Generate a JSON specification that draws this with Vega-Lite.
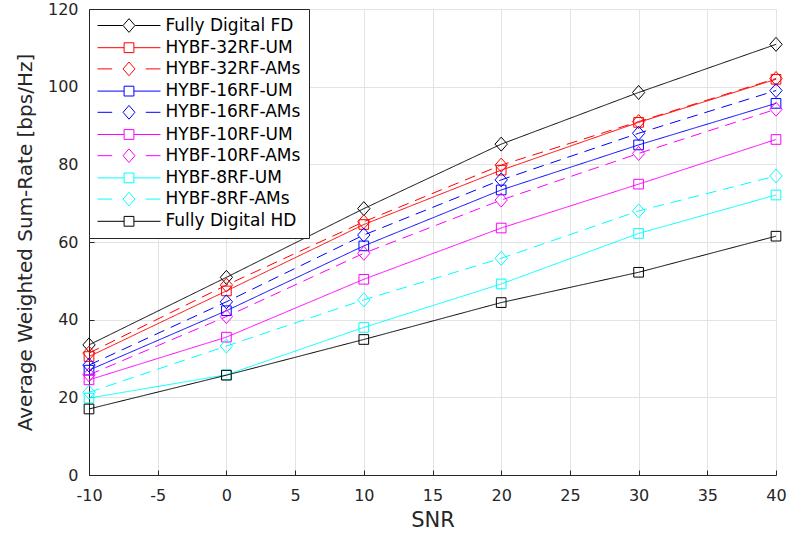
{
  "$schema": "https://vega.github.io/schema/vega-lite/v6.json",
  "width": 687,
  "height": 466,
  "autosize": {"type": "none"},
  "padding": {"left": 89, "top": 9, "right": 14, "bottom": 63},
  "background": "white",
  "config": {
    "view": {"stroke": null},
    "font": "DejaVu Sans",
    "axis": {
      "domainColor": "#262626",
      "domainWidth": 1,
      "tickColor": "#262626",
      "tickSize": -5,
      "tickWidth": 1,
      "labelColor": "#262626",
      "labelFont": "DejaVu Sans",
      "labelFontSize": 16,
      "labelExpr": "'' + datum.value",
      "titleColor": "#262626",
      "titleFont": "DejaVu Sans",
      "titleFontWeight": "normal",
      "gridColor": "#e3e3e3",
      "gridWidth": 1
    }
  },
  "data": {
    "values": [
      {"series": "Fully Digital FD", "snr": -10, "rate": 33.5},
      {"series": "Fully Digital FD", "snr": 0, "rate": 50.9},
      {"series": "Fully Digital FD", "snr": 10, "rate": 68.6},
      {"series": "Fully Digital FD", "snr": 20, "rate": 85.2},
      {"series": "Fully Digital FD", "snr": 30, "rate": 98.5},
      {"series": "Fully Digital FD", "snr": 40, "rate": 110.9},
      {"series": "HYBF-32RF-UM", "snr": -10, "rate": 30.5},
      {"series": "HYBF-32RF-UM", "snr": 0, "rate": 47.4},
      {"series": "HYBF-32RF-UM", "snr": 10, "rate": 64.5},
      {"series": "HYBF-32RF-UM", "snr": 20, "rate": 78.5},
      {"series": "HYBF-32RF-UM", "snr": 30, "rate": 90.8},
      {"series": "HYBF-32RF-UM", "snr": 40, "rate": 101.9},
      {"series": "HYBF-32RF-AMs", "snr": -10, "rate": 31.4},
      {"series": "HYBF-32RF-AMs", "snr": 0, "rate": 48.9},
      {"series": "HYBF-32RF-AMs", "snr": 10, "rate": 65.2},
      {"series": "HYBF-32RF-AMs", "snr": 20, "rate": 79.8},
      {"series": "HYBF-32RF-AMs", "snr": 30, "rate": 91.0},
      {"series": "HYBF-32RF-AMs", "snr": 40, "rate": 102.1},
      {"series": "HYBF-16RF-UM", "snr": -10, "rate": 27.0},
      {"series": "HYBF-16RF-UM", "snr": 0, "rate": 42.3},
      {"series": "HYBF-16RF-UM", "snr": 10, "rate": 59.0},
      {"series": "HYBF-16RF-UM", "snr": 20, "rate": 73.4},
      {"series": "HYBF-16RF-UM", "snr": 30, "rate": 85.0},
      {"series": "HYBF-16RF-UM", "snr": 40, "rate": 95.7},
      {"series": "HYBF-16RF-AMs", "snr": -10, "rate": 28.3},
      {"series": "HYBF-16RF-AMs", "snr": 0, "rate": 44.6},
      {"series": "HYBF-16RF-AMs", "snr": 10, "rate": 61.8},
      {"series": "HYBF-16RF-AMs", "snr": 20, "rate": 76.0},
      {"series": "HYBF-16RF-AMs", "snr": 30, "rate": 88.0},
      {"series": "HYBF-16RF-AMs", "snr": 40, "rate": 99.0},
      {"series": "HYBF-10RF-UM", "snr": -10, "rate": 24.5},
      {"series": "HYBF-10RF-UM", "snr": 0, "rate": 35.5},
      {"series": "HYBF-10RF-UM", "snr": 10, "rate": 50.4},
      {"series": "HYBF-10RF-UM", "snr": 20, "rate": 63.6},
      {"series": "HYBF-10RF-UM", "snr": 30, "rate": 74.9},
      {"series": "HYBF-10RF-UM", "snr": 40, "rate": 86.4},
      {"series": "HYBF-10RF-AMs", "snr": -10, "rate": 25.8},
      {"series": "HYBF-10RF-AMs", "snr": 0, "rate": 40.8},
      {"series": "HYBF-10RF-AMs", "snr": 10, "rate": 57.1},
      {"series": "HYBF-10RF-AMs", "snr": 20, "rate": 70.8},
      {"series": "HYBF-10RF-AMs", "snr": 30, "rate": 82.8},
      {"series": "HYBF-10RF-AMs", "snr": 40, "rate": 94.2},
      {"series": "HYBF-8RF-UM", "snr": -10, "rate": 19.8},
      {"series": "HYBF-8RF-UM", "snr": 0, "rate": 25.8},
      {"series": "HYBF-8RF-UM", "snr": 10, "rate": 38.0},
      {"series": "HYBF-8RF-UM", "snr": 20, "rate": 49.2},
      {"series": "HYBF-8RF-UM", "snr": 30, "rate": 62.2},
      {"series": "HYBF-8RF-UM", "snr": 40, "rate": 72.1},
      {"series": "HYBF-8RF-AMs", "snr": -10, "rate": 21.3},
      {"series": "HYBF-8RF-AMs", "snr": 0, "rate": 33.2},
      {"series": "HYBF-8RF-AMs", "snr": 10, "rate": 45.1},
      {"series": "HYBF-8RF-AMs", "snr": 20, "rate": 55.8},
      {"series": "HYBF-8RF-AMs", "snr": 30, "rate": 68.0},
      {"series": "HYBF-8RF-AMs", "snr": 40, "rate": 77.0},
      {"series": "Fully Digital HD", "snr": -10, "rate": 17.0},
      {"series": "Fully Digital HD", "snr": 0, "rate": 25.7},
      {"series": "Fully Digital HD", "snr": 10, "rate": 34.9},
      {"series": "Fully Digital HD", "snr": 20, "rate": 44.4},
      {"series": "Fully Digital HD", "snr": 30, "rate": 52.2},
      {"series": "Fully Digital HD", "snr": 40, "rate": 61.5}
    ]
  },
  "encoding": {
    "x": {
      "field": "snr",
      "type": "quantitative",
      "scale": {"domain": [-10, 40], "nice": false, "zero": false},
      "axis": {
        "values": [-10, -5, 0, 5, 10, 15, 20, 25, 30, 35, 40],
        "title": "SNR",
        "titleFontSize": 21,
        "titlePadding": 6,
        "labelPadding": 17,
        "grid": true,
        "labelFlush": false
      }
    },
    "y": {
      "field": "rate",
      "type": "quantitative",
      "scale": {"domain": [0, 120], "nice": false},
      "axis": {
        "values": [0, 20, 40, 60, 80, 100, 120],
        "title": "Average Weighted Sum-Rate [bps/Hz]",
        "titleFontSize": 20,
        "titlePadding": 12,
        "labelPadding": 16,
        "grid": true
      }
    }
  },
  "layer": [
    {
      "mark": {"type": "line", "strokeWidth": 1},
      "encoding": {
        "color": {
          "field": "series",
          "type": "nominal",
          "scale": {
            "domain": ["Fully Digital FD", "HYBF-32RF-UM", "HYBF-32RF-AMs", "HYBF-16RF-UM", "HYBF-16RF-AMs", "HYBF-10RF-UM", "HYBF-10RF-AMs", "HYBF-8RF-UM", "HYBF-8RF-AMs", "Fully Digital HD"],
            "range": ["#000000", "#ff0000", "#ff0000", "#0000ff", "#0000ff", "#ff00ff", "#ff00ff", "#00ffff", "#00ffff", "#000000"]
          },
          "legend": {
            "title": null,
            "orient": "top-left",
            "offset": 0,
            "padding": 8,
            "rowPadding": 3.2,
            "fillColor": "white",
            "strokeColor": "#262626",
            "labelFont": "DejaVu Sans",
            "labelFontSize": 17,
            "labelColor": "#000000",
            "labelLimit": 400,
            "symbolSize": 196,
            "symbolOffset": 23.5,
            "labelOffset": 28,
            "symbolStrokeWidth": 1,
            "symbolOpacity": 1,
            "symbolType": "M-4.5,0H-0.68M0.68,0H4.5M-0.68,-0.68H0.68V0.68H-0.68Z",
            "encode": {
              "symbols": {
                "update": {
                  "shape": {"signal": "datum.value === 'Fully Digital FD' ? 'M-4.5,0H-0.88M0.88,0H4.5M-0.85,0L0,-0.98L0.85,0L0,0.98Z' : (indexof(datum.value, 'AMs') >= 0 ? 'M-4.5,0H-2.4M2.4,0H4.5M-0.85,0L0,-0.98L0.85,0L0,0.98Z' : 'M-4.5,0H-0.7M0.7,0H4.5M-0.7,-0.7H0.7V0.7H-0.7Z')"},
                  "strokeDash": {"value": []},
                  "fill": {"value": "transparent"},
                  "opacity": {"value": 1}
                }
              }
            }
          }
        },
        "strokeDash": {
          "field": "series",
          "type": "nominal",
          "scale": {
            "domain": ["Fully Digital HD", "HYBF-8RF-AMs", "HYBF-8RF-UM", "HYBF-10RF-AMs", "HYBF-10RF-UM", "HYBF-16RF-AMs", "HYBF-16RF-UM", "HYBF-32RF-AMs", "HYBF-32RF-UM", "Fully Digital FD"],
            "range": [[1, 0], [11, 7], [1, 0], [11, 7], [1, 0], [11, 7], [1, 0], [11, 7], [1, 0], [1, 0]]
          },
          "legend": null
        }
      }
    },
    {
      "mark": {"type": "point", "filled": false, "size": 196, "strokeWidth": 1, "opacity": 1},
      "encoding": {
        "stroke": {
          "field": "series",
          "type": "nominal",
          "scale": {
            "domain": ["Fully Digital HD", "HYBF-8RF-AMs", "HYBF-8RF-UM", "HYBF-10RF-AMs", "HYBF-10RF-UM", "HYBF-16RF-AMs", "HYBF-16RF-UM", "HYBF-32RF-AMs", "HYBF-32RF-UM", "Fully Digital FD"],
            "range": ["#000000", "#00ffff", "#00ffff", "#ff00ff", "#ff00ff", "#0000ff", "#0000ff", "#ff0000", "#ff0000", "#000000"]
          },
          "legend": null
        },
        "shape": {
          "field": "series",
          "type": "nominal",
          "scale": {
            "domain": ["Fully Digital HD", "HYBF-8RF-AMs", "HYBF-8RF-UM", "HYBF-10RF-AMs", "HYBF-10RF-UM", "HYBF-16RF-AMs", "HYBF-16RF-UM", "HYBF-32RF-AMs", "HYBF-32RF-UM", "Fully Digital FD"],
            "range": ["M-0.69,-0.69H0.69V0.69H-0.69Z", "M-0.88,0L0,-1L0.88,0L0,1Z", "M-0.69,-0.69H0.69V0.69H-0.69Z", "M-0.88,0L0,-1L0.88,0L0,1Z", "M-0.69,-0.69H0.69V0.69H-0.69Z", "M-0.88,0L0,-1L0.88,0L0,1Z", "M-0.69,-0.69H0.69V0.69H-0.69Z", "M-0.88,0L0,-1L0.88,0L0,1Z", "M-0.69,-0.69H0.69V0.69H-0.69Z", "M-0.88,0L0,-1L0.88,0L0,1Z"]
          },
          "legend": null
        }
      }
    }
  ]
}
